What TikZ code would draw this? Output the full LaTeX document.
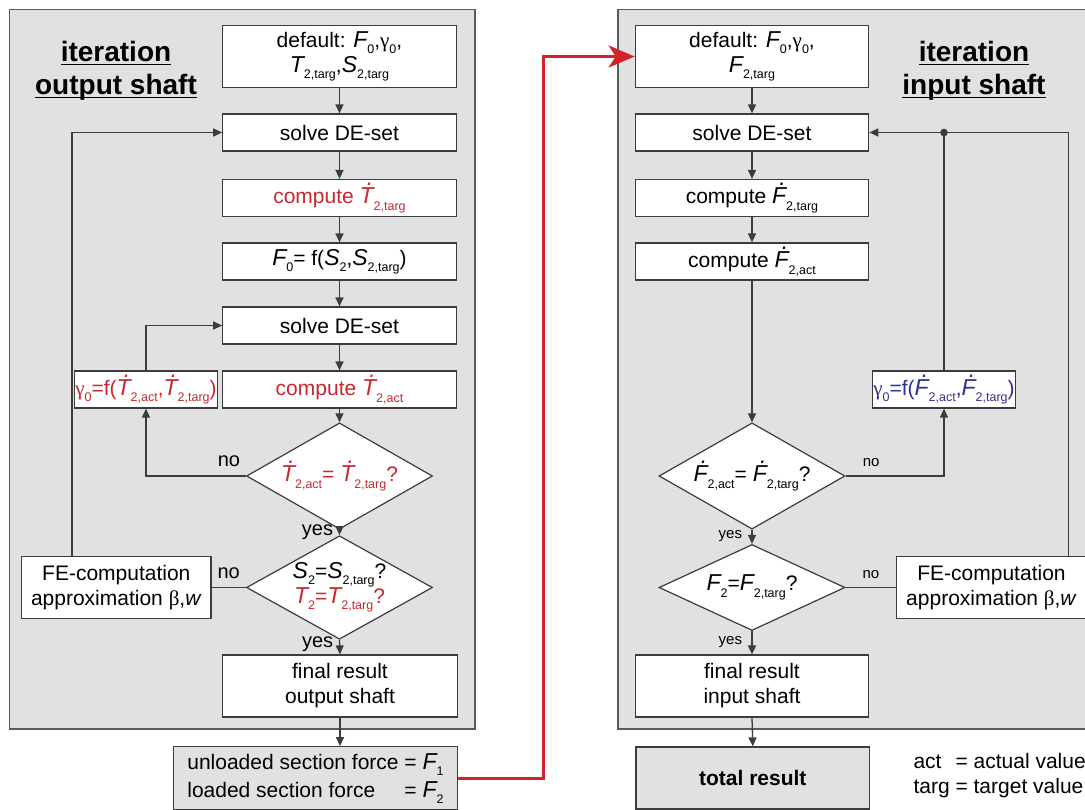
\documentclass[tikz,border=0pt]{standalone}
\usepackage{fontspec}
\setmainfont{Liberation Sans}
\newfontfamily\grk{Liberation Serif}
\usepackage{amsmath}
\usepackage{xcolor}
\usetikzlibrary{shapes.geometric,arrows.meta,positioning,calc}

\definecolor{panelgray}{HTML}{E1E1E1}
\definecolor{linegray}{HTML}{3C3C3C}
\definecolor{framegray}{HTML}{5A5A5A}
\definecolor{txtred}{HTML}{C8282E}
\definecolor{txtblue}{HTML}{2E3192}
\definecolor{flowred}{HTML}{D2232A}

% quantities with small lowered index
\newcommand{\sbs}[1]{\raisebox{-0.3em}{\fontsize{12.5}{13}\selectfont #1}}
\newcommand{\quan}[2]{{\fontsize{23}{25}\selectfont\itshape #1}\sbs{#2}}
\newcommand{\dotlet}[1]{{\fontsize{23}{25}\selectfont\itshape #1\kern-0.295em\raisebox{0.78em}{.}\kern0.017em}}
\newcommand{\dquan}[2]{\dotlet{#1}\sbs{#2}}
\newcommand{\gamz}{{\grk γ}\sbs{0}}
\newcommand{\ulin}[1]{\underline{\smash[b]{#1}}}

\begin{document}
\begin{tikzpicture}[x=1pt, y=-1pt,
    font=\fontsize{21}{25}\selectfont,
    panel/.style={draw=framegray, fill=panelgray, line width=1.2pt},
    box/.style={rectangle, draw=linegray, fill=white, line width=1.2pt, minimum width=233.5pt, minimum height=37pt, inner sep=2pt, align=center},
    tallbox/.style={box, minimum height=62pt},
    resbox/.style={tallbox, fill=panelgray},
    smallbox/.style={box, minimum width=134pt, inner sep=1pt},
    decision/.style={diamond, draw=linegray, fill=white, line width=1.2pt, minimum width=186pt, minimum height=86pt, inner sep=-10pt, align=center},
    title/.style={font=\fontsize{28}{33}\selectfont\bfseries, align=center},
    lbl/.style={font=\fontsize{20}{22}\selectfont},
    slbl/.style={font=\fontsize{15}{17}\selectfont},
    arrow/.style={-{Triangle[length=9pt,width=8pt]}, line width=1.3pt, draw=linegray},
    line/.style={line width=1.3pt, draw=linegray},
    redarrow/.style={-{Stealth[length=26pt,width=22pt,inset=7pt]}, line width=3pt, draw=flowred}
]
    \useasboundingbox (0,0) rectangle (1085,810);

    % panels
    \draw[panel] (9.3,9.3) rectangle (475,729);
    \draw[panel] (618,9.3) rectangle (1095,729);

    % iteration output shaft
    \node[title] (ltitle) at (116,70) {\ulin{iteration}\\\ulin{output shaft}};
    \node[tallbox] (d0) at (339.5,56.5) {default: \quan{F}{0},\gamz,\\\quan{T}{2,targ},\quan{S}{2,targ}};
    \node[box] (solve1) at (339.5,132.5) {solve DE-set};
    \node[box, text=txtred] (ttarg) at (339.5,198) {compute \dquan{T}{2,targ}};
    \node[box] (f0) at (339.5,261.5) {\quan{F}{0}= f(\quan{S}{2},\quan{S}{2,targ})};
    \node[box] (solve2) at (339.5,325.5) {solve DE-set};
    \node[box, text=txtred] (tact) at (339.5,389.5) {compute \dquan{T}{2,act}};
    \node[smallbox, text=txtred] (gam) at (146,389.5) {\gamz=f(\dquan{T}{2,act},\dquan{T}{2,targ})};
    \node[decision, text=txtred] (dec1) at (339.5,476) {\dquan{T}{2,act}= \dquan{T}{2,targ}?};
    \node[decision] (dec2) at (339.5,587.5) {\quan{S}{2}=\quan{S}{2,targ}?\\\textcolor{txtred}{\quan{T}{2}=\quan{T}{2,targ}?}};
    \node[tallbox, minimum width=189.3pt] (fe) at (116.3,587.5) {FE-computation\\approximation {\grk β},\textit{w}};
    \node[tallbox, minimum width=235pt] (fin) at (340,686) {final result\\output shaft};
    \node[resbox, minimum width=284.4pt, minimum height=62.6pt] (sec) at (315.5,778)
        {\renewcommand{\arraystretch}{1.12}\begin{tabular}{@{}l@{}l@{}}unloaded section force & {} = \quan{F}{1}\\loaded section force & {} = \quan{F}{2}\end{tabular}};
    \coordinate (lloop) at (72,0);

    % iteration input shaft
    \node[title] (rtitle) at (974,70) {\ulin{iteration}\\\ulin{input shaft}};
    \node[tallbox] (rd0) at (752,56.5) {default: \quan{F}{0},\gamz,\\\quan{F}{2,targ}};
    \node[box] (rsolve) at (752,132.5) {solve DE-set};
    \node[box] (rftarg) at (752,198) {compute \dquan{F}{2,targ}};
    \node[box] (rfact) at (752,261.5) {compute \dquan{F}{2,act}};
    \node[smallbox, text=txtblue] (rgam) at (944,389.5) {\gamz=f(\dquan{F}{2,act},\dquan{F}{2,targ})};
    \node[decision] (rdec1) at (752,476) {\dquan{F}{2,act}= \dquan{F}{2,targ}?};
    \node[decision] (rdec2) at (752,587.5) {\quan{F}{2}=\quan{F}{2,targ}?};
    \node[tallbox, minimum width=189.3pt] (rfe) at (991.5,587.5) {FE-computation\\approximation {\grk β},\textit{w}};
    \node[tallbox] (rfin) at (752,686) {final result\\input shaft};
    \node[resbox] (total) at (752.8,778) {\textbf{total result}};
    \node[anchor=west, align=left] (legend) at (910,776) {act\enspace\,= actual value\\targ = target value};
    \coordinate (rloop) at (1068.7,0);
    \coordinate (redcol) at (543.7,0);

    % arrows output shaft
    \draw[arrow] (d0.south) -- (solve1.north);
    \draw[arrow] (solve1.south) -- (ttarg.north);
    \draw[arrow] (ttarg.south) -- (f0.north);
    \draw[arrow] (f0.south) -- (solve2.north);
    \draw[arrow] (solve2.south) -- (tact.north);
    \draw[arrow] (tact.south) -- (dec1.north);
    \draw[arrow] (dec1.west) -| node[lbl, pos=0.085, above=5pt] {no} (gam.south);
    \draw[arrow] (gam.north) |- (solve2.west);
    \draw[arrow] (dec1.south) -- node[lbl, pos=0.4, left=2.5pt] {yes} (dec2.north);
    \draw[line] (dec2.west) -- node[lbl, above=5pt] {no} (fe.east);
    \draw[arrow] (fe.north -| lloop) |- (solve1.west);
    \draw[arrow] (dec2.south) -- node[lbl, pos=0.33, left=2.5pt] {yes} (fin.north);
    \draw[arrow] (fin.south) -- (fin.south |- sec.north);

    % arrows input shaft
    \draw[arrow] (rd0.south) -- (rsolve.north);
    \draw[arrow] (rsolve.south) -- (rftarg.north);
    \draw[arrow] (rftarg.south) -- (rfact.north);
    \draw[arrow] (rfact.south) -- (rdec1.north);
    \draw[arrow] (rdec1.east) -| node[slbl, pos=0.13, above=5pt] {no} (rgam.south);
    \draw[arrow] (rdec1.south) -- node[slbl, pos=0.45, left=6pt] {yes} (rdec2.north);
    \draw[line] (rdec2.east) -- node[slbl, above=5pt] {no} (rfe.west);
    \draw[arrow] (rdec2.south) -- node[slbl, pos=0.45, left=6pt] {yes} (rfin.north);
    \draw[arrow] (rfin.south) -- (total.north);
    \draw[arrow] (rfe.north -| rloop) |- (rsolve.east);
    \draw[line] (rgam.north) -- (rgam.north |- rsolve.east);
    \fill[linegray] (rgam.north |- rsolve.east) circle (3.8pt);

    % hand over to input shaft
    \draw[redarrow] (sec.east) -- (sec.east -| redcol) -- (redcol |- rd0.west) -- (rd0.west);
\end{tikzpicture}
\end{document}
